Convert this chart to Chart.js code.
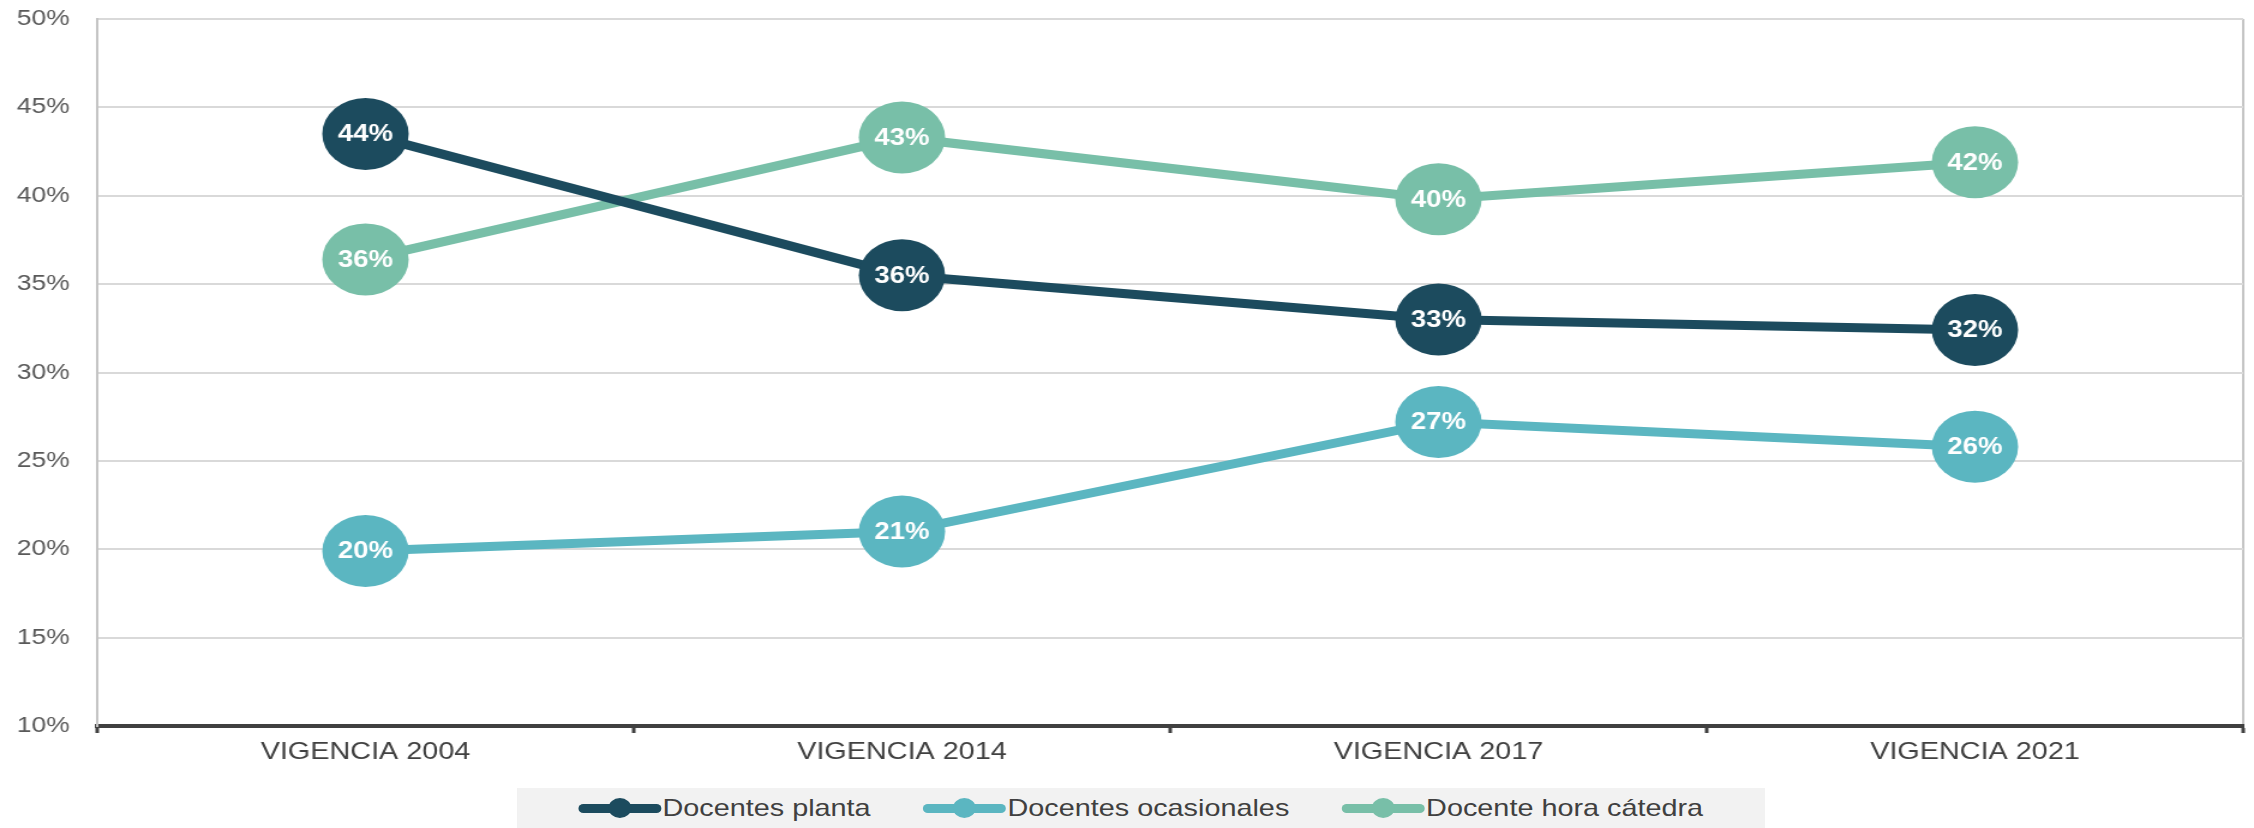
<!DOCTYPE html>
<html>
<head>
<meta charset="utf-8">
<script src="https://cdn.jsdelivr.net/npm/chart.js@4.4.1/dist/chart.umd.min.js"></script>
<style>
  html, body { margin: 0; padding: 0; background: #ffffff; overflow: hidden; }
  #wrap { position: absolute; left: 0; top: 0; width: 1878px; height: 828px; transform: scaleX(1.20021); transform-origin: 0 0; }
  #c { position: absolute; left: 0; top: 0; }
  #legend { position: absolute; left: 431px; top: 788px; width: 1039px; height: 40px; background: #f2f2f2;
            display: flex; align-items: center; justify-content: center;
            font-family: "Liberation Sans", Arial, sans-serif; font-size: 24px; color: #404040; }
  .item { display: flex; align-items: center; }
  .item + .item { margin-left: 44px; }
  .mk { position: relative; width: 69px; height: 9px; border-radius: 4px; margin-right: 1px; }
  .mk .dot { position: absolute; left: 50%; top: 50%; width: 19px; height: 20px; margin: -10px 0 0 -9.5px; border-radius: 50%; }
</style>
</head>
<body>
<div id="wrap">
  <canvas id="c" width="1878" height="828"></canvas>
  <div id="legend"></div>
</div>
<script>
// ---- data ----
const categories = ['VIGENCIA 2004', 'VIGENCIA 2014', 'VIGENCIA 2017', 'VIGENCIA 2021'];
const docentesPlanta = [43.5, 35.5, 33.0, 32.4];
const docentesOcasionales = [19.9, 21.0, 27.2, 25.8];
const docenteHoraCatedra = [36.4, 43.3, 39.8, 41.9];
const seriesNames = ['Docentes planta', 'Docentes ocasionales', 'Docente hora cátedra'];
const yMin = 10, yMax = 50, yStep = 5;

const colors = ['#1c4b5e', '#5bb6c1', '#78bfa8'];
const FONT = '"Liberation Sans", Arial, sans-serif';
Chart.defaults.font.family = FONT;

const seriesValues = [docentesPlanta, docentesOcasionales, docenteHoraCatedra];
const datasets = seriesValues.map((vals, i) => ({
  label: seriesNames[i],
  data: vals,
  borderColor: colors[i],
  backgroundColor: colors[i],
  pointBackgroundColor: colors[i],
  pointBorderWidth: 0,
  pointRadius: 36,
  pointHoverRadius: 36,
  borderWidth: 9,
  tension: 0,
  fill: false,
  clip: false
}));

const valueLabels = {
  id: 'valueLabels',
  afterDatasetsDraw(chart) {
    const ctx = chart.ctx;
    ctx.save();
    ctx.font = 'bold 23px ' + FONT;
    ctx.fillStyle = '#ffffff';
    ctx.textAlign = 'center';
    ctx.textBaseline = 'middle';
    chart.data.datasets.forEach((ds, i) => {
      const meta = chart.getDatasetMeta(i);
      meta.data.forEach((pt, j) => {
        ctx.fillText(Math.round(ds.data[j]) + '%', pt.x, pt.y + 1);
      });
    });
    ctx.restore();
  }
};

const chart = new Chart(document.getElementById('c'), {
  type: 'line',
  data: { labels: categories, datasets: datasets },
  options: {
    responsive: false,
    animation: false,
    devicePixelRatio: 1,
    layout: { autoPadding: false, padding: { top: 19, right: 9, bottom: 40, left: 0 } },
    plugins: { legend: { display: false }, tooltip: { enabled: false } },
    scales: {
      x: {
        offset: true,
        ticks: { color: '#404040', font: { size: 24 }, padding: 5, maxRotation: 0, autoSkip: false },
        grid: {
          offset: true,
          drawOnChartArea: true,
          color: (c) => (c.type === 'scale' || c.index === 0) ? '#c4c4c4' : 'rgba(0,0,0,0)',
          lineWidth: 2,
          tickColor: '#404040',
          tickLength: 7,
          tickWidth: 3
        },
        border: { color: '#404040', width: 4 },
        afterFit(s) { s.height = 62; }
      },
      y: {
        min: yMin, max: yMax,
        ticks: { stepSize: yStep, color: '#595959', font: { size: 22 }, padding: 2, callback: (v) => v + '%' },
        grid: {
          color: (c) => (c.tick && c.tick.value === yMin) ? 'rgba(0,0,0,0)' : '#d9d9d9',
          lineWidth: 2,
          drawTicks: true,
          tickLength: 21,
          tickColor: 'rgba(0,0,0,0)'
        },
        border: { color: '#c4c4c4', width: 2 },
        afterFit(s) { s.width = 81; }
      }
    }
  },
  plugins: [valueLabels]
});

// HTML legend generated from datasets
const legend = document.getElementById('legend');
chart.data.datasets.forEach((ds) => {
  const item = document.createElement('div');
  item.className = 'item';
  const mk = document.createElement('span');
  mk.className = 'mk';
  mk.style.background = ds.borderColor;
  const dot = document.createElement('span');
  dot.className = 'dot';
  dot.style.background = ds.borderColor;
  mk.appendChild(dot);
  const tx = document.createElement('span');
  tx.textContent = ds.label;
  item.appendChild(mk);
  item.appendChild(tx);
  legend.appendChild(item);
});
</script>
</body>
</html>
